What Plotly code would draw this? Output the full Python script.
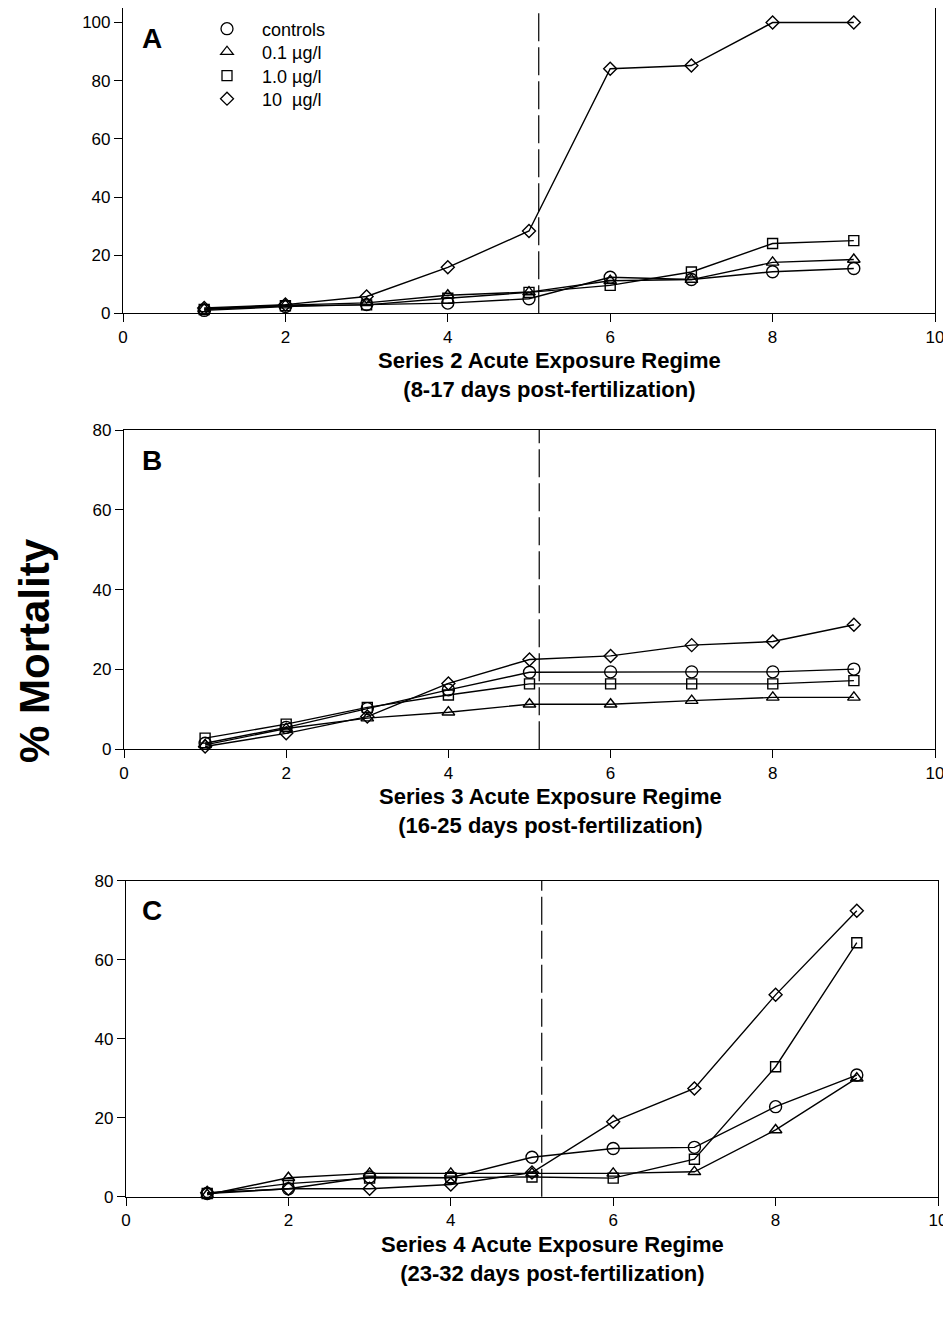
import plotly.graph_objects as go

# ---------------- data ----------------
days = [1, 2, 3, 4, 5, 6, 7, 8, 9]
series_names = ["controls", "0.1 µg/l", "1.0 µg/l", "10  µg/l"]

# Panel A - Series 2 (8-17 days post-fertilization)
a_controls = [1.0, 2.3, 3.0, 3.5, 5.0, 12.4, 11.6, 14.3, 15.4]
a_low = [1.5, 2.8, 3.6, 6.2, 7.3, 11.2, 11.6, 17.5, 18.5]
a_mid = [1.3, 2.6, 2.9, 5.2, 7.2, 9.6, 14.2, 24.0, 25.0]
a_high = [1.8, 3.0, 5.8, 15.8, 28.3, 84.1, 85.2, 100.0, 100.0]

# Panel B - Series 3 (16-25 days post-fertilization)
b_controls = [1.5, 5.5, 10.2, 14.9, 19.3, 19.4, 19.4, 19.4, 20.1]
b_low = [1.1, 5.2, 7.8, 9.3, 11.3, 11.3, 12.2, 13.0, 13.0]
b_mid = [2.8, 6.3, 10.5, 13.6, 16.4, 16.4, 16.4, 16.4, 17.2]
b_high = [0.7, 4.0, 8.2, 16.5, 22.5, 23.4, 26.1, 27.0, 31.2]

# Panel C - Series 4 (23-32 days post-fertilization)
c_controls = [0.8, 2.0, 5.0, 4.8, 10.0, 12.2, 12.5, 22.8, 30.8]
c_low = [0.5, 4.8, 5.9, 5.9, 5.9, 5.9, 6.3, 16.9, 30.0]
c_mid = [0.8, 3.3, 4.7, 4.8, 5.0, 4.7, 9.5, 32.9, 64.3]
c_high = [1.0, 2.0, 2.0, 3.1, 6.1, 19.0, 27.4, 51.1, 72.4]

exposure_end = 5.12  # dashed line: end of acute exposure

panel_letters = ["A", "B", "C"]
x_titles = [
    "Series 2 Acute Exposure Regime<br>(8-17 days post-fertilization)",
    "Series 3 Acute Exposure Regime<br>(16-25 days post-fertilization)",
    "Series 4 Acute Exposure Regime<br>(23-32 days post-fertilization)",
]
x_ticks = [0, 2, 4, 6, 8, 10]
y_ticks_list = [[0, 20, 40, 60, 80, 100], [0, 20, 40, 60, 80], [0, 20, 40, 60, 80]]
y_max_list = [105, 80, 80]
y_label = "% Mortality"

panels = [
    [a_controls, a_low, a_mid, a_high],
    [b_controls, b_low, b_mid, b_high],
    [c_controls, c_low, c_mid, c_high],
]

# ---------------- style ----------------
OFF = 8  # default page body margin in the browser
W, H = 951 - OFF, 1319 - OFF
FONT = "Liberation Sans, Arial, Helvetica, sans-serif"
symbols = ["circle-open", "triangle-up-open", "square-open", "diamond-open"]
sizes = [12, 11, 10, 10]


def px(xp):
    return min(1.0, max(0.0, (xp - OFF) / W))


def py(yp):
    return min(1.0, max(0.0, 1 - (yp - OFF) / H))


# plot-area pixel boxes in the screenshot (left, right, top, bottom)
boxes = [
    (123, 935, 8, 313.3),
    (124, 935, 430, 749.3),
    (126, 938, 880.7, 1196.7),
]
legend_rows = [29, 52, 76, 99]

fig = go.Figure()

for p, series in enumerate(panels):
    sfx = "" if p == 0 else str(p + 1)
    for s, vals in enumerate(series):
        fig.add_trace(go.Scatter(
            x=days, y=vals, mode="lines+markers",
            name=series_names[s], showlegend=False,
            xaxis="x" + sfx, yaxis="y" + sfx,
            line=dict(color="black", width=1.4),
            marker=dict(symbol=symbols[s], size=sizes[s], color="black",
                        line=dict(color="black", width=1.4)),
            cliponaxis=False,
        ))

# legend-only traces (markers only), one legend box per entry
legend_ids = ["legend", "legend2", "legend3", "legend4"]
for s in range(4):
    fig.add_trace(go.Scatter(
        x=[None], y=[None], mode="markers", name=series_names[s],
        marker=dict(symbol=symbols[s], size=sizes[s], color="black",
                    line=dict(color="black", width=1.3)),
        showlegend=True, legend=legend_ids[s],
    ))

axis_common = dict(
    showgrid=False, zeroline=False, showline=True, linecolor="black",
    linewidth=1.2, mirror=True, ticks="outside", ticklen=8, tickwidth=1.2,
    tickcolor="black", tickfont=dict(family=FONT, size=17, color="black"),
    automargin=False,
)

layout = dict(
    width=W, height=H, margin=dict(l=0, r=0, t=0, b=0, autoexpand=False),
    paper_bgcolor="white", plot_bgcolor="white",
    font=dict(family=FONT, color="black"),
    showlegend=True,
)
for s, lid in enumerate(legend_ids):
    layout[lid] = dict(
        x=px(192), y=py(legend_rows[s]), xanchor="left", yanchor="middle",
        bgcolor="rgba(0,0,0,0)", borderwidth=0,
        font=dict(family=FONT, size=18, color="black"),
        itemwidth=60,
    )

annotations = []
shapes = []
for p in range(3):
    sfx = "" if p == 0 else str(p + 1)
    l, r, t, b = boxes[p]
    layout["xaxis" + sfx] = dict(
        axis_common, domain=[px(l), px(r)], range=[0, 10],
        tickvals=x_ticks, anchor="y" + sfx,
    )
    layout["yaxis" + sfx] = dict(
        axis_common, domain=[py(b), py(t)], range=[0, y_max_list[p]],
        tickvals=y_ticks_list[p], anchor="x" + sfx,
    )
    shapes.append(dict(
        type="line", xref="x" + sfx, yref="y" + sfx + " domain",
        x0=exposure_end, x1=exposure_end, y0=0, y1=1,
        line=dict(color="black", width=1.2, dash="28px,6px"),
    ))
    annotations.append(dict(
        text=panel_letters[p], xref="paper", yref="paper",
        x=px(152), y=py(t + 30), xanchor="center", yanchor="middle",
        showarrow=False, font=dict(family=FONT, size=28, color="black", weight="bold"),
    ))
    annotations.append(dict(
        text=x_titles[p], xref="paper", yref="paper",
        x=px(l + 426), y=py(b + 62), xanchor="center", yanchor="middle",
        showarrow=False, align="center",
        font=dict(family=FONT, size=22, color="black", weight="bold"),
    ))

annotations.append(dict(
    text=y_label, xref="paper", yref="paper", x=px(34), y=py(651),
    xanchor="center", yanchor="middle", textangle=-90, showarrow=False,
    font=dict(family=FONT, size=42, color="black", weight="bold"),
))

layout["annotations"] = annotations
layout["shapes"] = shapes
fig.update_layout(**layout)

fig.write_html("out.html")
